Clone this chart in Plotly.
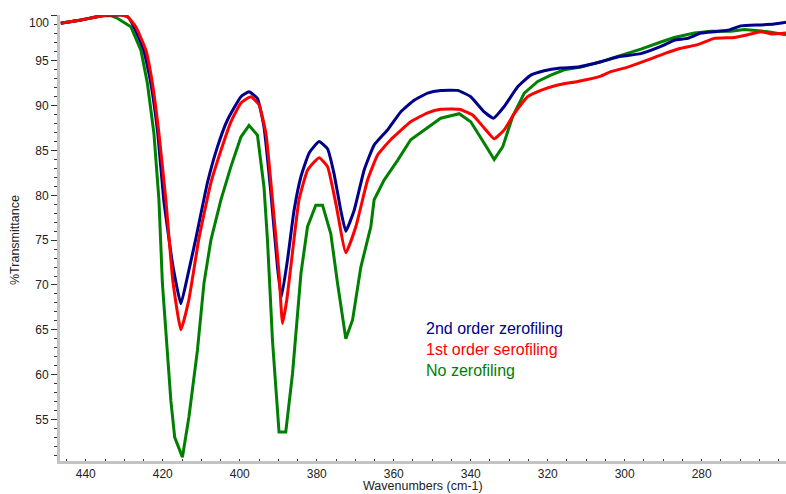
import plotly.graph_objects as go

# ---- data (wavenumber cm-1, %T) ----
blue_x = [446.5, 441.3, 436.1, 433.5, 430.9, 429.1, 427.5, 424.95, 423.1, 421.3, 419.75, 417.4, 415.3,
          413.5, 411.4, 408.4, 405.8, 403.2, 399.7, 397.6, 395.4, 393.7, 391.9, 390.2, 389.2, 387.6,
          385.9, 384.1, 382.0, 379.4, 377.2, 375.5, 373.75, 372.45, 370.3, 367.7, 365.1, 361.6, 358.2,
          354.7, 351.2, 347.8, 343.4, 340.0, 336.5, 334.1, 331.3, 327.8, 324.4, 320.9, 316.6, 312.2,
          306.2, 301.0, 295.8, 290.6, 287.1, 283.65, 280.2, 276.7, 273.3, 269.8, 264.6, 261.15, 258.1]
blue_y = [99.2, 99.55, 100.0, 100.1, 100.1, 99.9, 98.8, 96.2, 92.5, 86.9, 79.5, 72.2, 67.9,
          71.1, 75.2, 81.4, 85.4, 88.4, 91.0, 91.55, 90.8, 87.6, 80.2, 72.0, 68.6, 72.8,
          78.3, 82.1, 84.7, 86.0, 85.2, 82.4, 78.3, 76.0, 78.3, 82.8, 85.6, 87.3, 89.3,
          90.6, 91.4, 91.7, 91.7, 91.0, 89.3, 88.6, 89.9, 92.1, 93.4, 93.9, 94.2, 94.3,
          94.9, 95.5, 95.8, 96.6, 97.3, 97.5, 98.1, 98.25, 98.4, 98.9, 99.0, 99.1, 99.3]

red_x = [446.5, 441.3, 436.1, 433.5, 430.9, 429.1, 427.0, 424.4, 422.7, 421.0, 419.2, 417.4, 415.3,
         413.25, 410.6, 407.5, 404.9, 402.3, 399.7, 397.1, 395.0, 393.2, 391.5, 389.8, 388.9, 387.8,
         386.75, 384.6, 382.4, 379.4, 377.2, 375.05, 372.45, 369.85, 366.8, 364.2, 360.8, 355.6, 351.2,
         347.8, 343.0, 339.5, 336.5, 333.9, 331.3, 328.7, 325.2, 321.8, 317.4, 312.2, 306.2, 303.6,
         299.2, 294.0, 289.7, 285.4, 281.05, 276.7, 271.5, 268.1, 264.6, 262.0, 258.1]
red_y = [99.2, 99.55, 100.0, 100.1, 100.1, 99.9, 98.8, 96.2, 92.5, 86.9, 79.5, 70.5, 65.0,
         68.3, 75.2, 81.4, 85.0, 88.2, 90.3, 91.0, 90.1, 86.9, 79.5, 71.3, 65.7, 68.3,
         72.0, 79.5, 82.8, 84.2, 83.2, 79.1, 73.6, 76.5, 81.7, 84.5, 86.2, 88.2, 89.2,
         89.6, 89.6, 88.95, 87.5, 86.3, 87.3, 89.1, 91.0, 91.7, 92.3, 92.7, 93.3, 93.8,
         94.3, 95.1, 95.8, 96.4, 96.8, 97.5, 97.6, 97.9, 98.25, 98.0, 98.1]

green_x = [446.5, 441.3, 436.1, 433.5, 431.8, 430.1, 428.3, 425.7, 424.0, 422.3, 421.0, 420.1, 419.2,
           417.9, 416.9, 414.9, 413.2, 411.0, 409.3, 407.5, 404.9, 402.3, 399.7, 397.6, 395.4, 393.7,
           392.8, 391.5, 389.8, 388.05, 386.3, 384.1, 382.4, 380.25, 378.5, 376.35, 374.6, 372.45,
           370.7, 368.55, 365.95, 365.1, 362.5, 359.0, 355.6, 351.2, 347.8, 343.0, 340.0, 336.5,
           333.9, 331.7, 329.1, 326.1, 322.6, 319.2, 315.7, 311.4, 306.2, 301.0, 295.8, 290.6,
           287.1, 281.9, 277.6, 272.4, 268.9, 262.9, 258.1]
green_y = [99.2, 99.55, 100.0, 100.05, 99.75, 99.3, 98.8, 96.2, 92.5, 86.9, 79.5, 70.2, 64.6,
           57.1, 53.0, 50.8, 55.3, 62.7, 70.2, 75.0, 79.5, 83.2, 86.5, 87.8, 86.7, 80.9,
           75.0, 63.8, 53.6, 53.6, 60.1, 71.3, 76.5, 78.9, 78.9, 75.7, 70.2, 64.0,
           66.1, 72.0, 76.5, 79.5, 81.7, 83.9, 86.2, 87.6, 88.6, 89.1, 88.2, 85.8,
           84.0, 85.4, 88.8, 91.4, 92.7, 93.4, 94.0, 94.3, 94.9, 95.6, 96.3, 97.1,
           97.6, 98.1, 98.3, 98.3, 98.5, 98.25, 97.9]

series_names = ["2nd order zerofiling", "1st order serofiling", "No zerofiling"]
series_colors = ["#00008b", "#ff0000", "#008000"]

y_ticks = [55, 60, 65, 70, 75, 80, 85, 90, 95, 100]
x_ticks = [440, 420, 400, 380, 360, 340, 320, 300, 280]

FONT = "Arial, Liberation Sans, sans-serif"

fig = go.Figure()
# draw order: green, blue, red
for xs, ys, name, col, shp in [(green_x, green_y, series_names[2], series_colors[2], "linear"),
                               (blue_x, blue_y, series_names[0], series_colors[0], "spline"),
                               (red_x, red_y, series_names[1], series_colors[1], "spline")]:
    line = dict(color=col, width=3, shape=shp)
    if shp == "spline":
        line["smoothing"] = 0.4
    fig.add_trace(go.Scatter(x=xs, y=ys, mode="lines", name=name, line=line,
                             showlegend=False, hoverinfo="skip"))

fig.update_layout(
    width=786, height=494,
    margin=dict(l=60, r=0, t=15, b=33, autoexpand=False),
    paper_bgcolor="white", plot_bgcolor="white",
    font=dict(family=FONT, size=12, color="#222"),
)

fig.update_xaxes(
    range=[446.7, 258.1], autorange=False, automargin=False,
    tickvals=x_ticks, ticktext=[str(v) for v in x_ticks],
    showgrid=False, zeroline=False,
    showline=True, linecolor="#c4c4c4", linewidth=3,
    ticks="inside", ticklen=2, tickcolor="#333", tickwidth=1,
    minor=dict(dtick=5, tick0=440, ticks="inside", ticklen=2, tickcolor="#333", tickwidth=1, showgrid=False),
    tickfont=dict(size=12, color="#222"),
)

fig.update_yaxes(
    range=[50.37, 100.11], autorange=False, automargin=False,
    tickvals=y_ticks, ticktext=[str(v) if v != 100 else "" for v in y_ticks],
    showgrid=False, zeroline=False,
    showline=True, linecolor="#c4c4c4", linewidth=3,
    ticks="outside", ticklen=6, tickcolor="#333", tickwidth=1,
    minor=dict(dtick=1, tick0=50, ticks="outside", ticklen=3, tickcolor="#333", tickwidth=1, showgrid=False),
    tickfont=dict(size=12, color="#222"),
)

annotations = [
    dict(text="100", x=0, xref="paper", y=100, yref="y", xanchor="right", yanchor="middle",
         xshift=-9, yshift=-7, showarrow=False, font=dict(size=12, color="#222", family=FONT)),
    dict(text="Wavenumbers (cm-1)", x=0.5, xref="paper", y=-0.0735, yref="paper",
         xanchor="center", yanchor="bottom", showarrow=False, borderpad=0,
         font=dict(size=12.5, color="#222", family=FONT)),
    dict(text="%Transmittance", x=-0.062, xref="paper", y=0.4955, yref="paper", textangle=-90,
         xanchor="center", yanchor="middle", showarrow=False,
         font=dict(size=12.5, color="#222", family=FONT)),
]
legend_y = [0.298, 0.251, 0.204]
for name, col, ly in zip(series_names, series_colors, legend_y):
    annotations.append(dict(text=name, x=0.502, xref="paper", y=ly, yref="paper",
                            xanchor="left", yanchor="middle", showarrow=False,
                            font=dict(size=16, color=col, family=FONT)))
fig.update_layout(annotations=annotations)

fig.write_html("out.html", config={"displayModeBar": False, "staticPlot": True},
               post_script="document.body.style.margin='0';document.body.style.overflow='hidden';")
